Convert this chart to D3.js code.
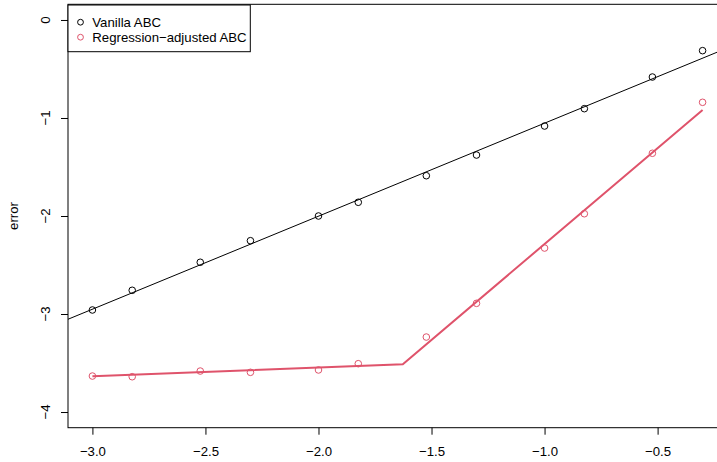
<!DOCTYPE html>
<html>
<head>
<meta charset="utf-8">
<script src="https://cdn.jsdelivr.net/npm/d3@7"></script>
<style>
  html, body { margin: 0; padding: 0; background: #fff; }
  svg { display: block; font-family: "Liberation Sans", Arial, sans-serif; }
</style>
</head>
<body>
<svg id="chart" width="717" height="462"></svg>
<script>
// ---- data ----
const logTol = [-3.000, -2.824, -2.523, -2.301, -2.000, -1.824, -1.523, -1.301, -1.000, -0.824, -0.523, -0.301];
const vanillaError = [-2.959, -2.758, -2.472, -2.252, -2.000, -1.860, -1.589, -1.378, -1.082, -0.905, -0.582, -0.313];
const regAdjError = [-3.633, -3.640, -3.582, -3.595, -3.571, -3.507, -3.235, -2.891, -2.327, -1.977, -1.360, -0.840];
const vanillaFit = { intercept: -0.104, slope: 0.949 };
const regFitX = [-3.000, -1.627, -0.301];
const regFitY = [-3.636, -3.513, -0.918];
const xTicks = [-3.0, -2.5, -2.0, -1.5, -1.0, -0.5];
const yTicks = [0, -1, -2, -3, -4];
const seriesNames = ["Vanilla ABC", "Regression\u2212adjusted ABC"];
const seriesColors = ["#000000", "#DF536B"];
const yLabel = "error";

(function () {
// ---- layout ----
const FS = 13.2;
const svg = d3.select("#chart");
const pL = 68, pR = 727, pT = 4.3, pB = 427.7;
const x = d3.scaleLinear().domain([-3.108, -0.193]).range([pL, pR]);
const y = d3.scaleLinear().domain([-4.16, 0.16]).range([pB, pT]);

svg.append("defs").append("clipPath").attr("id", "clip")
  .append("rect").attr("x", pL).attr("y", pT).attr("width", pR - pL).attr("height", pB - pT);

// box
svg.append("rect").attr("x", pL).attr("y", pT).attr("width", pR - pL).attr("height", pB - pT)
  .attr("fill", "none").attr("stroke", "#000").attr("stroke-width", 1);

// x axis
const xAxis = d3.axisBottom(x).tickValues(xTicks).tickSize(7).tickPadding(12)
  .tickFormat(d => d.toFixed(1).replace("-", "\u2212"));
const gx = svg.append("g").attr("transform", `translate(0,${pB})`).call(xAxis);
gx.select(".domain").remove();
gx.selectAll("text").attr("font-size", FS).attr("font-family", "Liberation Sans, Arial, sans-serif").attr("fill", "#000");
gx.selectAll("line").attr("stroke", "#000");

// y axis
const yAxis = d3.axisLeft(y).tickValues(yTicks).tickSize(7).tickFormat(() => "");
const gy = svg.append("g").attr("transform", `translate(${pL},0)`).call(yAxis);
gy.select(".domain").remove();
gy.selectAll("line").attr("stroke", "#000");
svg.append("g").selectAll("text").data(yTicks).join("text")
  .attr("transform", d => `translate(49.5,${y(d)}) rotate(-90)`)
  .attr("text-anchor", "middle")
  .attr("font-size", FS).attr("fill", "#000")
  .text(d => String(d).replace("-", "\u2212"));

svg.append("text").attr("transform", `translate(17.5,${(pT + pB) / 2}) rotate(-90)`)
  .attr("text-anchor", "middle").attr("font-size", FS).attr("fill", "#000").text(yLabel);

const plot = svg.append("g").attr("clip-path", "url(#clip)");

// vanilla fit line (abline)
const xd = x.domain();
plot.append("line")
  .attr("x1", x(xd[0])).attr("y1", y(vanillaFit.intercept + vanillaFit.slope * xd[0]))
  .attr("x2", x(xd[1])).attr("y2", y(vanillaFit.intercept + vanillaFit.slope * xd[1]))
  .attr("stroke", seriesColors[0]).attr("stroke-width", 1);

// regression-adjusted fit
plot.append("path")
  .datum(regFitX.map((v, i) => [v, regFitY[i]]))
  .attr("d", d3.line().x(d => x(d[0])).y(d => y(d[1])))
  .attr("fill", "none").attr("stroke", seriesColors[1]).attr("stroke-width", 2);

// points
plot.append("g").selectAll("circle").data(logTol.map((v, i) => [v, vanillaError[i]])).join("circle")
  .attr("cx", d => x(d[0])).attr("cy", d => y(d[1])).attr("r", 3.3)
  .attr("fill", "none").attr("stroke", seriesColors[0]).attr("stroke-width", 1);
plot.append("g").selectAll("circle").data(logTol.map((v, i) => [v, regAdjError[i]])).join("circle")
  .attr("cx", d => x(d[0])).attr("cy", d => y(d[1])).attr("r", 3.3)
  .attr("fill", "none").attr("stroke", seriesColors[1]).attr("stroke-width", 1);

// legend
const lg = svg.append("g");
lg.append("rect").attr("x", pL).attr("y", 5).attr("width", 182.3).attr("height", 46.7)
  .attr("fill", "#fff").attr("stroke", "#000").attr("stroke-width", 1);
seriesNames.forEach((name, i) => {
  const base = 26.5 + i * 15;
  lg.append("circle").attr("cx", 80.5).attr("cy", base - 4.3).attr("r", 2.9)
    .attr("fill", "none").attr("stroke", seriesColors[i]).attr("stroke-width", 1);
  lg.append("text").attr("x", 92.3).attr("y", base).attr("font-size", FS).attr("fill", "#000").text(name);
});
})();
</script>
</body>
</html>
